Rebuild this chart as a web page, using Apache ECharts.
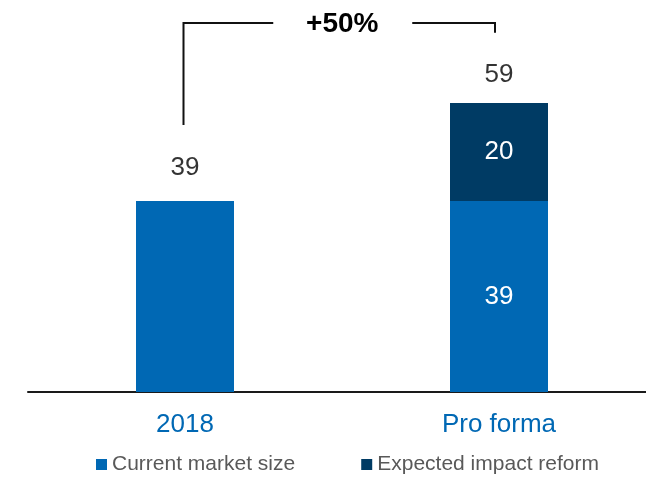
<!DOCTYPE html>
<html>
<head>
<meta charset="utf-8">
<script src="https://cdn.jsdelivr.net/npm/echarts@6/dist/echarts.min.js"></script>
<style>
html,body{margin:0;padding:0;background:#fff;}
#c{width:646px;height:477px;}
</style>
</head>
<body>
<div id="c"></div>
<script>
var categories = ['2018', 'Pro forma'];
var currentMarket = [39, 39];
var expectedImpact = [null, 20];
var totals = [39, 59];
var seriesNames = ['Current market size', 'Expected impact reform'];
var growthLabel = '+50%';

var FONT = '"Liberation Sans", Arial, Helvetica, sans-serif';
var BLUE = '#0068B4';
var DARK = '#003B64';

var chart = echarts.init(document.getElementById('c'), null, {renderer: 'canvas'});

var option = {
  animation: false,
  backgroundColor: '#ffffff',
  grid: {left: 28, width: 628, top: 0, height: 392, containLabel: false, outerBoundsMode: 'none'},
  legend: {
    data: seriesNames,
    left: 91,
    top: 449,
    itemWidth: 11,
    itemHeight: 11,
    itemGap: 66,
    icon: 'rect',
    textStyle: {fontFamily: FONT, fontSize: 21, color: '#595959'}
  },
  xAxis: {
    type: 'category',
    data: categories,
    axisLine: {show: true, lineStyle: {color: '#1a1a1a', width: 2}},
    axisTick: {show: false},
    axisLabel: {fontFamily: FONT, fontSize: 26, color: BLUE, margin: 20}
  },
  yAxis: {
    type: 'value',
    min: 0,
    max: 80,
    show: false,
    splitLine: {show: false}
  },
  series: [
    {
      name: seriesNames[0],
      type: 'bar',
      stack: 'total',
      barWidth: 98,
      itemStyle: {color: BLUE},
      data: currentMarket.map(function (v, i) {
        return {
          value: v,
          label: {show: i === 1, position: 'inside', color: '#fff', fontFamily: FONT, fontSize: 26}
        };
      })
    },
    {
      name: seriesNames[1],
      type: 'bar',
      stack: 'total',
      barWidth: 98,
      itemStyle: {color: DARK},
      label: {show: true, position: 'inside', color: '#fff', fontFamily: FONT, fontSize: 26},
      data: expectedImpact
    },
    {
      name: 'totals',
      type: 'scatter',
      symbolSize: 0,
      silent: true,
      itemStyle: {color: '#000'},
      label: {show: true, position: 'top', color: '#000', fontFamily: FONT, fontSize: 26},
      data: totals.map(function (v, i) {
        return {
          value: v,
          label: {show: true, position: 'top', distance: i === 0 ? 20 : 15, color: '#000', fontFamily: FONT, fontSize: 26}
        };
      })
    }
  ]
};
chart.setOption(option);

// bracket annotation computed from axis scales
function px(catIndex, val) {
  return chart.convertToPixel({gridIndex: 0}, [catIndex, val]);
}
var leftBottom = px(0, 54.5);
var leftTop = px(0, 75.3);
var rightBottom = px(1, 73.3);
var lx = leftBottom[0] - 1.5;
var rx = rightBottom[0] - 4;
var ty = leftTop[1];
var midX = (lx + rx) / 2 + 3;
var lineStyle = {stroke: '#111', lineWidth: 2};
chart.setOption({
  graphic: [
    {type: 'polyline', shape: {points: [[lx, leftBottom[1]], [lx, ty], [midX - 69, ty]]}, style: lineStyle, silent: true},
    {type: 'polyline', shape: {points: [[midX + 70, ty], [rx, ty], [rx, rightBottom[1]]]}, style: lineStyle, silent: true},
    {type: 'text', x: midX, y: ty + 1.5, style: {text: growthLabel, fontFamily: FONT, fontSize: 28, fontWeight: 'bold', fill: '#000', align: 'center', verticalAlign: 'middle'}, silent: true}
  ]
});
</script>
</body>
</html>
